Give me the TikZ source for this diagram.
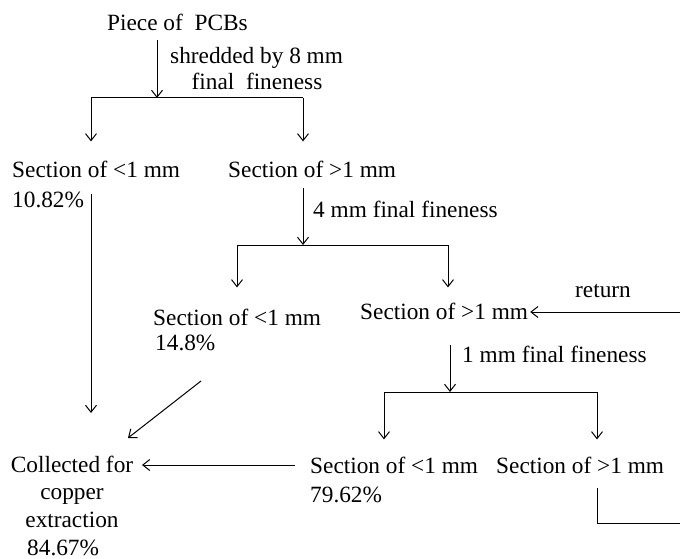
\documentclass[tikz,border=0pt]{standalone}
\usepackage{fontspec}
\setmainfont{Liberation Serif}
\usetikzlibrary{arrows.meta}

\tikzset{
  flow/.style={line width=1pt},
  arr/.style={flow, -{Straight Barb[length=7pt,width=11pt]}},
}

\begin{document}
\begin{tikzpicture}[x=1pt,y=-1pt]

      \useasboundingbox (0,0) rectangle (680,559);

      \begin{scope}[every node/.style={anchor=base west, inner sep=0pt, font=\fontsize{23.3}{27.5}\selectfont}]
        \node (piece)  at (107,31)  {Piece of \ PCBs};
        \node (shred)  at (170,64)  {shredded by 8 mm};
        \node[anchor=base] (fine8) at (257,90) {final \ fineness};
        \node (lowA)   at (12,178)  {Section of <1 mm};
        \node (pctA)   at (12,207)  {10.82\%};
        \node (highA)  at (228,178) {Section of >1 mm};
        \node (fine4)  at (313,217) {4 mm final fineness};
        \node (lowB)   at (153,325) {Section of <1 mm};
        \node (pctB)   at (155,350) {14.8\%};
        \node (highB)  at (360,319) {Section of >1 mm};
        \node (ret)    at (575,297) {return};
        \node (fine1)  at (462,362) {1 mm final fineness};
        \node (lowC)   at (310,473) {Section of <1 mm};
        \node (pctC)   at (310,502) {79.62\%};
        \node (highC)  at (496,473) {Section of >1 mm};
        \node[anchor=base, align=center] (coll) at (72,527) {Collected for\\copper\\extraction};
        \node (pctD)   at (27,555)  {84.67\%};
      \end{scope}

      % splitting bars
      \coordinate (b1) at (157,98);
      \coordinate (b1l) at (91,98);
      \coordinate (b1r) at (303,98);
      \coordinate (b2) at (303,245);
      \coordinate (b2l) at (237,245);
      \coordinate (b2r) at (448,245);
      \coordinate (b3) at (450,392);
      \coordinate (b3l) at (384,392);
      \coordinate (b3r) at (597,392);

      % loose ends
      \coordinate (sideA) at (91,194);
      \coordinate (intoA) at (91,413);
      \coordinate (diagB) at (201,381);
      \coordinate (intoB) at (128,438);
      \coordinate (fromC) at (295,465);
      \coordinate (intoC) at (142,465);
      \coordinate (edgeT) at (680,312);
      \coordinate (downH) at (597,488);
      \coordinate (cornH) at (597,523);
      \coordinate (edgeB) at (680,523);

      \draw[arr] (piece.south -| b1) ++(0,9) -- (b1);
      \draw[flow] (b1l) -- (b1r);
      \draw[arr, shorten >=20pt] (b1l) -- (b1l |- lowA.north);
      \draw[arr, shorten >=20pt] (b1r) -- (b1r |- highA.north);

      \draw[arr] (highA.south -| b2) ++(0,10) -- (b2);
      \draw[flow] (b2l) -- (b2r);
      \draw[arr, shorten >=21pt] (b2l) -- (b2l |- lowB.north);
      \draw[arr, shorten >=15pt] (b2r) -- (b2r |- highB.north);

      \draw[arr] (highB.south -| b3) ++(0,26) -- (b3);
      \draw[flow] (b3l) -- (b3r);
      \draw[arr, shorten >=17pt] (b3l) -- (b3l |- lowC.north);
      \draw[arr, shorten >=17pt] (b3r) -- (b3r |- highC.north);

      \draw[arr] (sideA) -- (intoA);
      \draw[arr] (diagB) -- (intoB);
      \draw[arr] (fromC) -- (intoC);
      \draw[arr, shorten >=2pt] (edgeT) -- (edgeT -| highB.east);
      \draw[flow] (downH) -- (cornH) -- (edgeB);

    \end{tikzpicture}
\end{document}
